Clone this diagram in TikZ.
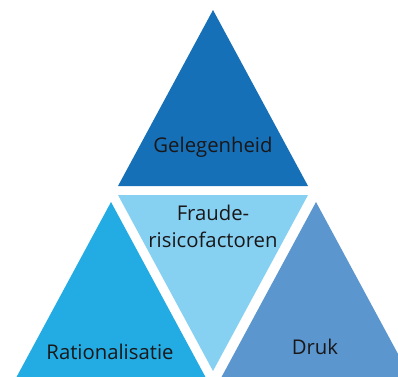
\documentclass[tikz,border=0pt]{standalone}
\usepackage{fontspec}
\setmainfont{Open Sans}
\usetikzlibrary{calc}

\definecolor{gelegenheid}{HTML}{1570B8}
\definecolor{fraude}{HTML}{86D0F2}
\definecolor{rationalisatie}{HTML}{22ACE3}
\definecolor{druk}{HTML}{5B96CE}
\definecolor{labeltext}{HTML}{1A1718}

\begin{document}
\begin{tikzpicture}[x=1pt, y=1pt,
    every node/.style={font=\fontsize{20.3}{27}\selectfont, text=labeltext, align=center}]
    \coordinate (Origin)   at (0,0);
    \coordinate (TopRight) at (398,376);
    \useasboundingbox (Origin) rectangle (TopRight);
    \clip (Origin) rectangle (TopRight); % Cuts off the right triangle

    \coordinate (GApex) at (213,366);% Apex of the upper triangle
    \coordinate (FTip)  at (213,5);  % Tip of the inverted triangle
    \coordinate (RApex) at (111,174);
    \coordinate (DApex) at (316,174);

    \fill[gelegenheid]    (GApex) -- ++(-95,-176) -- ++(190,0) -- cycle;
    \fill[fraude]         (FTip)  -- ++(-95,176)  -- ++(190,0) -- cycle;
    \fill[rationalisatie] (RApex) -- ++(-95,-176) -- ++(190,0) -- cycle;
    \fill[druk]           (DApex) -- ++(-95,-176) -- ++(190,0) -- cycle;

    \node (Gelegenheid)    at (213,229)   {Gelegenheid};
    \node (Fraude)         at (213,149.5) {Fraude-\\risicofactoren};
    \node (Rationalisatie) at (110,24)    {Rationalisatie};
    \node (Druk)           at (315,29)    {Druk};
\end{tikzpicture}
\end{document}
